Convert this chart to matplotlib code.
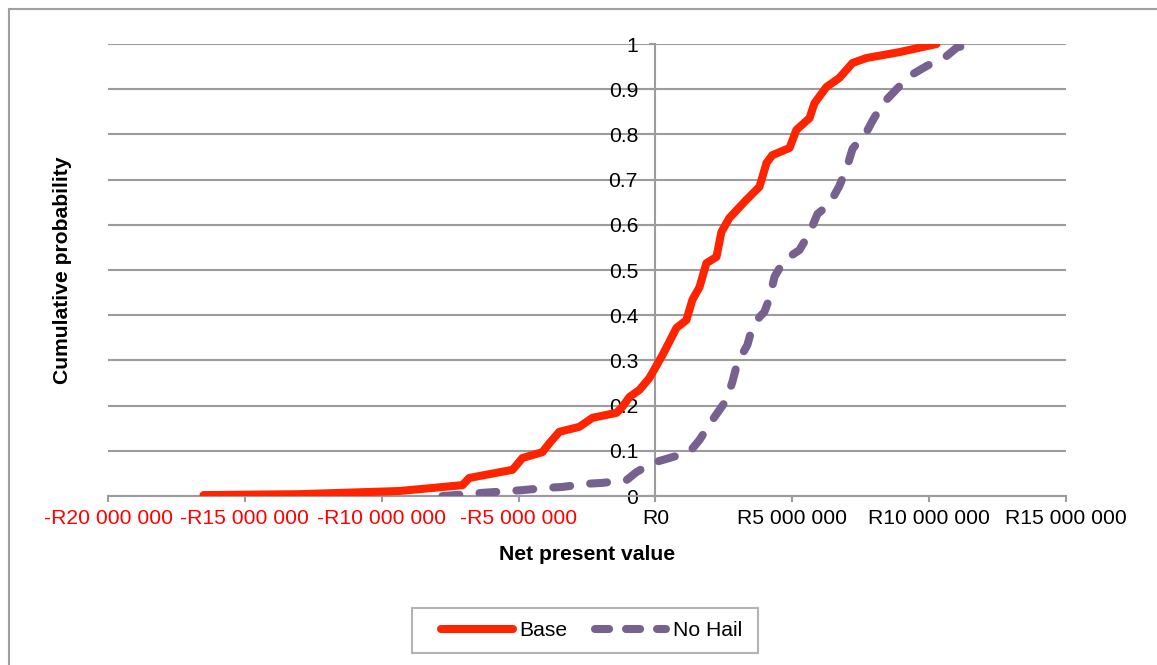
import matplotlib
matplotlib.use("Agg")
import matplotlib.pyplot as plt
from matplotlib.patches import Rectangle
from matplotlib.lines import Line2D

plt.rcParams['font.family'] = ['Liberation Sans', 'DejaVu Sans']

# Net present value (R million) and cumulative probability for each scenario
base_npv = [-16.51, -13.01, -9.36, -7.05, -6.80, -5.22, -4.86, -4.13, -3.87, -3.51,
            -2.78, -2.30, -1.42, -1.21, -0.95, -0.58, -0.22, 0.26, 0.77, 1.13,
            1.35, 1.61, 1.86, 2.23, 2.41, 2.70, 3.32, 3.80, 4.06, 4.27,
            4.90, 5.15, 5.63, 5.81, 6.25, 6.72, 7.20, 7.71, 8.91, 10.27]
base_prob = [0.002, 0.004, 0.011, 0.024, 0.040, 0.058, 0.084, 0.097, 0.117, 0.142,
             0.153, 0.173, 0.184, 0.197, 0.219, 0.235, 0.261, 0.312, 0.372, 0.389,
             0.434, 0.462, 0.515, 0.529, 0.584, 0.615, 0.655, 0.684, 0.737, 0.754,
             0.770, 0.810, 0.836, 0.869, 0.905, 0.925, 0.958, 0.969, 0.982, 1.0]

nohail_npv = [-7.78, -6.90, -6.32, -5.33, -4.86, -3.98, -3.40, -2.52, -1.94, -1.06,
              -0.69, -0.11, 0.62, 1.24, 1.61, 2.08, 2.59, 2.81, 3.00, 3.36,
              3.51, 3.80, 3.98, 4.17, 4.35, 4.71, 5.26, 5.63, 5.92, 6.36,
              6.72, 6.98, 7.20, 7.71, 7.93, 8.29, 8.81, 9.28, 9.90, 10.63,
              11.03, 11.84]
nohail_prob = [0.0, 0.004, 0.007, 0.011, 0.013, 0.018, 0.020, 0.027, 0.029, 0.035,
               0.053, 0.073, 0.086, 0.097, 0.124, 0.168, 0.212, 0.252, 0.296, 0.334,
               0.367, 0.396, 0.407, 0.438, 0.485, 0.522, 0.544, 0.582, 0.624, 0.646,
               0.686, 0.724, 0.768, 0.805, 0.830, 0.867, 0.900, 0.929, 0.951, 0.973,
               0.993, 1.0]

x_ticks_m = [-20, -15, -10, -5, 0, 5, 10, 15]
y_ticks = [0, 0.1, 0.2, 0.3, 0.4, 0.5, 0.6, 0.7, 0.8, 0.9, 1.0]
series_names = ["Base", "No Hail"]

RED = "#ff2400"
PURPLE = "#77628f"
GRID = "#9c9c9c"
FS = 15.2
W, H = 1157, 665


def rand_label(m):
    if m == 0:
        return "R0"
    s = f"{abs(m) * 1_000_000:,}".replace(",", " ")
    return ("-R" if m < 0 else "R") + s


fig = plt.figure(figsize=(W / 100, H / 100), dpi=100)
ax = fig.add_axes([108 / W, 1 - 496 / H, (1066 - 108) / W, (496 - 44) / H])

# Outer chart frame
fig.patches.append(Rectangle((9 / W, -0.05), 1.05, 1 - 9 / H + 0.05,
                             transform=fig.transFigure, fill=False,
                             edgecolor="#a0a0a0", linewidth=1.5))

# Axis lines: the vertical axis crosses at R0
for side in ("top", "right"):
    ax.spines[side].set_visible(False)
ax.spines["left"].set_position(("data", 0))
ax.spines["left"].set_color(GRID)
ax.spines["left"].set_linewidth(1.5)
ax.spines["bottom"].set_color(GRID)
ax.spines["bottom"].set_linewidth(1.5)

lw = 5.8
ax.plot([v * 1e6 for v in base_npv], base_prob, color=RED, lw=lw,
        solid_capstyle="round", solid_joinstyle="round", zorder=3)
ax.plot([v * 1e6 for v in nohail_npv], nohail_prob, color=PURPLE, lw=lw,
        dashes=(2.1, 2.5), dash_capstyle="round", dash_joinstyle="round", zorder=3)

ax.set_xlim(x_ticks_m[0] * 1e6, x_ticks_m[-1] * 1e6)
ax.set_ylim(0, 1)

ax.set_xticks([m * 1e6 for m in x_ticks_m])
ax.set_xticklabels([rand_label(m) for m in x_ticks_m])
ax.set_yticks(y_ticks)
ax.set_yticklabels([f"{v:g}" for v in y_ticks])

ax.tick_params(axis="x", direction="out", length=4.5, width=1.5, color=GRID,
               pad=5, labelsize=FS)
ax.tick_params(axis="y", direction="out", length=4.5, width=1.5, color=GRID,
               pad=8, labelsize=FS)
for lab, m in zip(ax.get_xticklabels(), x_ticks_m):
    lab.set_color("#ff0000" if m < 0 else "black")

ax.yaxis.grid(True, color=GRID, linewidth=1.5)
ax.set_axisbelow(True)

ax.set_xlabel("Net present value", fontsize=FS, fontweight="bold", labelpad=12)
fig.text(63 / W, 1 - 270 / H, "Cumulative probability", rotation=90,
         fontsize=FS, fontweight="bold", ha="center", va="center")

# Legend
handles = [
    Line2D([], [], color=RED, lw=lw, solid_capstyle="round"),
    Line2D([], [], color=PURPLE, lw=lw, dashes=(1.75, 2.1), dash_capstyle="round"),
]
leg = fig.legend(handles, series_names, loc="center left",
                 bbox_to_anchor=(441 / W, 1 - 631 / H), ncol=2, fontsize=FS,
                 frameon=False, handlelength=3.4, handletextpad=0.3,
                 columnspacing=1.3, borderpad=0.0, borderaxespad=0.0)
fig.patches.append(Rectangle((412 / W, 1 - 653 / H), (758 - 412) / W, (653 - 608) / H,
                             transform=fig.transFigure, fill=False,
                             edgecolor="#b4b4b4", linewidth=1.5))

fig.savefig("out.png", dpi=100)
